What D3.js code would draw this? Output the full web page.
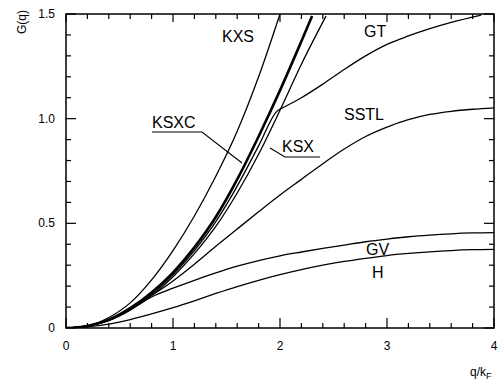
<!DOCTYPE html>
<html>
<head>
<meta charset="utf-8">
<script src="https://cdn.jsdelivr.net/npm/d3@7"></script>
<style>
  body { margin: 0; background: #fff; }
  svg { font-family: "Liberation Sans", Arial, sans-serif; }
</style>
</head>
<body>
<script>
// q / kF values and G(q)
const qKXS  = [0, 0.2, 0.4, 0.6, 0.8, 1.0, 1.2, 1.4, 1.6, 1.8, 2.0];
const gKXS  = [0, 0.01, 0.05, 0.12, 0.23, 0.37, 0.535, 0.725, 0.94, 1.2, 1.5];

const qKSXC = [0, 0.2, 0.4, 0.6, 0.8, 1.0, 1.2, 1.4, 1.6, 1.8, 2.0, 2.2, 2.3];
const gKSXC = [0, 0.01, 0.04, 0.095, 0.17, 0.265, 0.385, 0.53, 0.71, 0.915, 1.135, 1.37, 1.49];

const qKSX  = [0, 0.2, 0.4, 0.6, 0.8, 1.0, 1.2, 1.4, 1.6, 1.8, 2.0, 2.2, 2.43];
const gKSX  = [0, 0.01, 0.035, 0.085, 0.155, 0.245, 0.355, 0.485, 0.645, 0.83, 1.04, 1.26, 1.49];

const qGT   = [0, 0.2, 0.4, 0.6, 0.8, 1.0, 1.2, 1.4, 1.6, 1.8, 1.97, 2.05, 2.2, 2.4, 2.6, 2.8, 3.0, 3.2, 3.4, 3.6, 3.88];
const gGT   = [0, 0.01, 0.038, 0.09, 0.162, 0.255, 0.37, 0.508, 0.678, 0.87, 1.035, 1.058, 1.1, 1.165, 1.235, 1.3, 1.355, 1.395, 1.43, 1.46, 1.495];

const qGrid = [0, 0.2, 0.4, 0.6, 0.8, 1.0, 1.2, 1.4, 1.6, 1.8, 2.0, 2.2, 2.4, 2.6, 2.8, 3.0, 3.2, 3.4, 3.6, 3.8, 4.0];
const gSSTL = [0, 0.01, 0.038, 0.09, 0.155, 0.225, 0.305, 0.39, 0.473, 0.555, 0.635, 0.71, 0.785, 0.855, 0.915, 0.96, 0.995, 1.02, 1.035, 1.045, 1.052];
const gGV   = [0, 0.01, 0.036, 0.088, 0.148, 0.19, 0.228, 0.263, 0.295, 0.322, 0.345, 0.363, 0.38, 0.396, 0.412, 0.425, 0.436, 0.444, 0.45, 0.454, 0.456];
const gH    = [0, 0.005, 0.018, 0.04, 0.067, 0.097, 0.13, 0.165, 0.198, 0.228, 0.255, 0.279, 0.3, 0.318, 0.333, 0.346, 0.356, 0.364, 0.37, 0.374, 0.376];

const xTicks = [0, 1, 2, 3, 4];
const yTicks = [0, 0.5, 1.0, 1.5];
const yTickLabels = ["0", "0.5", "1.0", "1.5"];

const series = [
  { name: "KXS",  q: qKXS,  g: gKXS,  w: 1.3 },
  { name: "KSXC", q: qKSXC, g: gKSXC, w: 2.6 },
  { name: "KSX",  q: qKSX,  g: gKSX,  w: 1.3 },
  { name: "GT",   q: qGT,   g: gGT,   w: 1.3 },
  { name: "SSTL", q: qGrid, g: gSSTL, w: 1.3 },
  { name: "GV",   q: qGrid, g: gGV,   w: 1.3 },
  { name: "H",    q: qGrid, g: gH,    w: 1.3 }
];

const svgWidth = 503, svgHeight = 380;
const margin = { top: 14, right: 9, bottom: 52, left: 66 };
const width = svgWidth - margin.left - margin.right;
const height = svgHeight - margin.top - margin.bottom;

const svg = d3.select("body").append("svg")
    .attr("width", svgWidth)
    .attr("height", svgHeight);

const chart = svg.append("g")
    .attr("transform", `translate(${margin.left},${margin.top})`);

const xScale = d3.scaleLinear().domain([0, 4]).range([0, width]);
const yScale = d3.scaleLinear().domain([0, 1.5]).range([height, 0]);

chart.append("clipPath").attr("id", "plotclip")
  .append("rect").attr("x", 0).attr("y", 0).attr("width", width).attr("height", height);

// curves
const line = d3.line()
    .x(d => xScale(d[0]))
    .y(d => yScale(d[1]))
    .curve(d3.curveMonotoneX);

chart.append("g").attr("clip-path", "url(#plotclip)")
  .selectAll("path")
  .data(series)
  .enter()
  .append("path")
    .attr("d", s => line(s.q.map((q, i) => [q, s.g[i]])))
    .attr("fill", "none")
    .attr("stroke", "#000")
    .attr("stroke-width", s => s.w)
    .attr("stroke-linejoin", "round");

// frame
chart.append("rect")
    .attr("width", width).attr("height", height)
    .attr("fill", "none").attr("stroke", "#000").attr("stroke-width", 1.5);

// ticks, all pointing inwards
const xMinor = d3.range(0, 4.001, 0.2);
const yMinor = d3.range(0, 1.501, 0.1);
const isMajorX = v => Math.abs(v - Math.round(v)) < 1e-6;
const isMajorY = v => Math.abs(v * 2 - Math.round(v * 2)) < 1e-6;

const tk = chart.append("g").attr("stroke", "#000").attr("stroke-width", 1.2);
xMinor.forEach(v => {
  const L = isMajorX(v) ? 10 : 5;
  tk.append("line").attr("x1", xScale(v)).attr("x2", xScale(v))
    .attr("y1", height).attr("y2", height - L);
  tk.append("line").attr("x1", xScale(v)).attr("x2", xScale(v))
    .attr("y1", 0).attr("y2", isMajorX(v) ? 8 : 5);
});
yMinor.forEach(v => {
  const L = isMajorY(v) ? 10 : 5;
  tk.append("line").attr("y1", yScale(v)).attr("y2", yScale(v))
    .attr("x1", 0).attr("x2", L);
  tk.append("line").attr("y1", yScale(v)).attr("y2", yScale(v))
    .attr("x1", width).attr("x2", width - L);
});

// tick labels
chart.selectAll(".xlab")
  .data(xTicks)
  .enter().append("text")
    .attr("x", d => xScale(d))
    .attr("y", height + 22)
    .attr("text-anchor", "middle")
    .style("font-size", "12px")
    .text(d => d);

chart.selectAll(".ylab")
  .data(yTicks)
  .enter().append("text")
    .attr("x", -11)
    .attr("y", d => yScale(d) + 4)
    .attr("text-anchor", "end")
    .style("font-size", "12px")
    .text((d, i) => yTickLabels[i]);

// axis titles
svg.append("text")
    .attr("transform", "translate(26,22) rotate(-90)")
    .attr("text-anchor", "middle")
    .style("font-size", "12px")
    .text("G(q)");

const xt = svg.append("text")
    .attr("x", 470).attr("y", 376)
    .style("font-size", "12px");
xt.append("tspan").text("q/k");
xt.append("tspan").attr("dy", 3).style("font-size", "9px").text("F");

// curve labels
const labels = [
  { t: "KXS",  x: 222, y: 42 },
  { t: "GT",   x: 364, y: 37 },
  { t: "SSTL", x: 344, y: 120 },
  { t: "KSXC", x: 152, y: 128 },
  { t: "KSX",  x: 282, y: 152 },
  { t: "GV",   x: 366, y: 255 },
  { t: "H",    x: 372, y: 278 }
];
svg.selectAll(".clab")
  .data(labels)
  .enter().append("text")
    .attr("x", d => d.x).attr("y", d => d.y)
    .style("font-size", "16px")
    .text(d => d.t);

// leader lines for KSXC and KSX
svg.append("path")
    .attr("d", "M152,132 L202,132 L242,163")
    .attr("fill", "none").attr("stroke", "#000").attr("stroke-width", 1.1);
svg.append("path")
    .attr("d", "M320,157 L285,157 L270,148")
    .attr("fill", "none").attr("stroke", "#000").attr("stroke-width", 1.1);
</script>
</body>
</html>
